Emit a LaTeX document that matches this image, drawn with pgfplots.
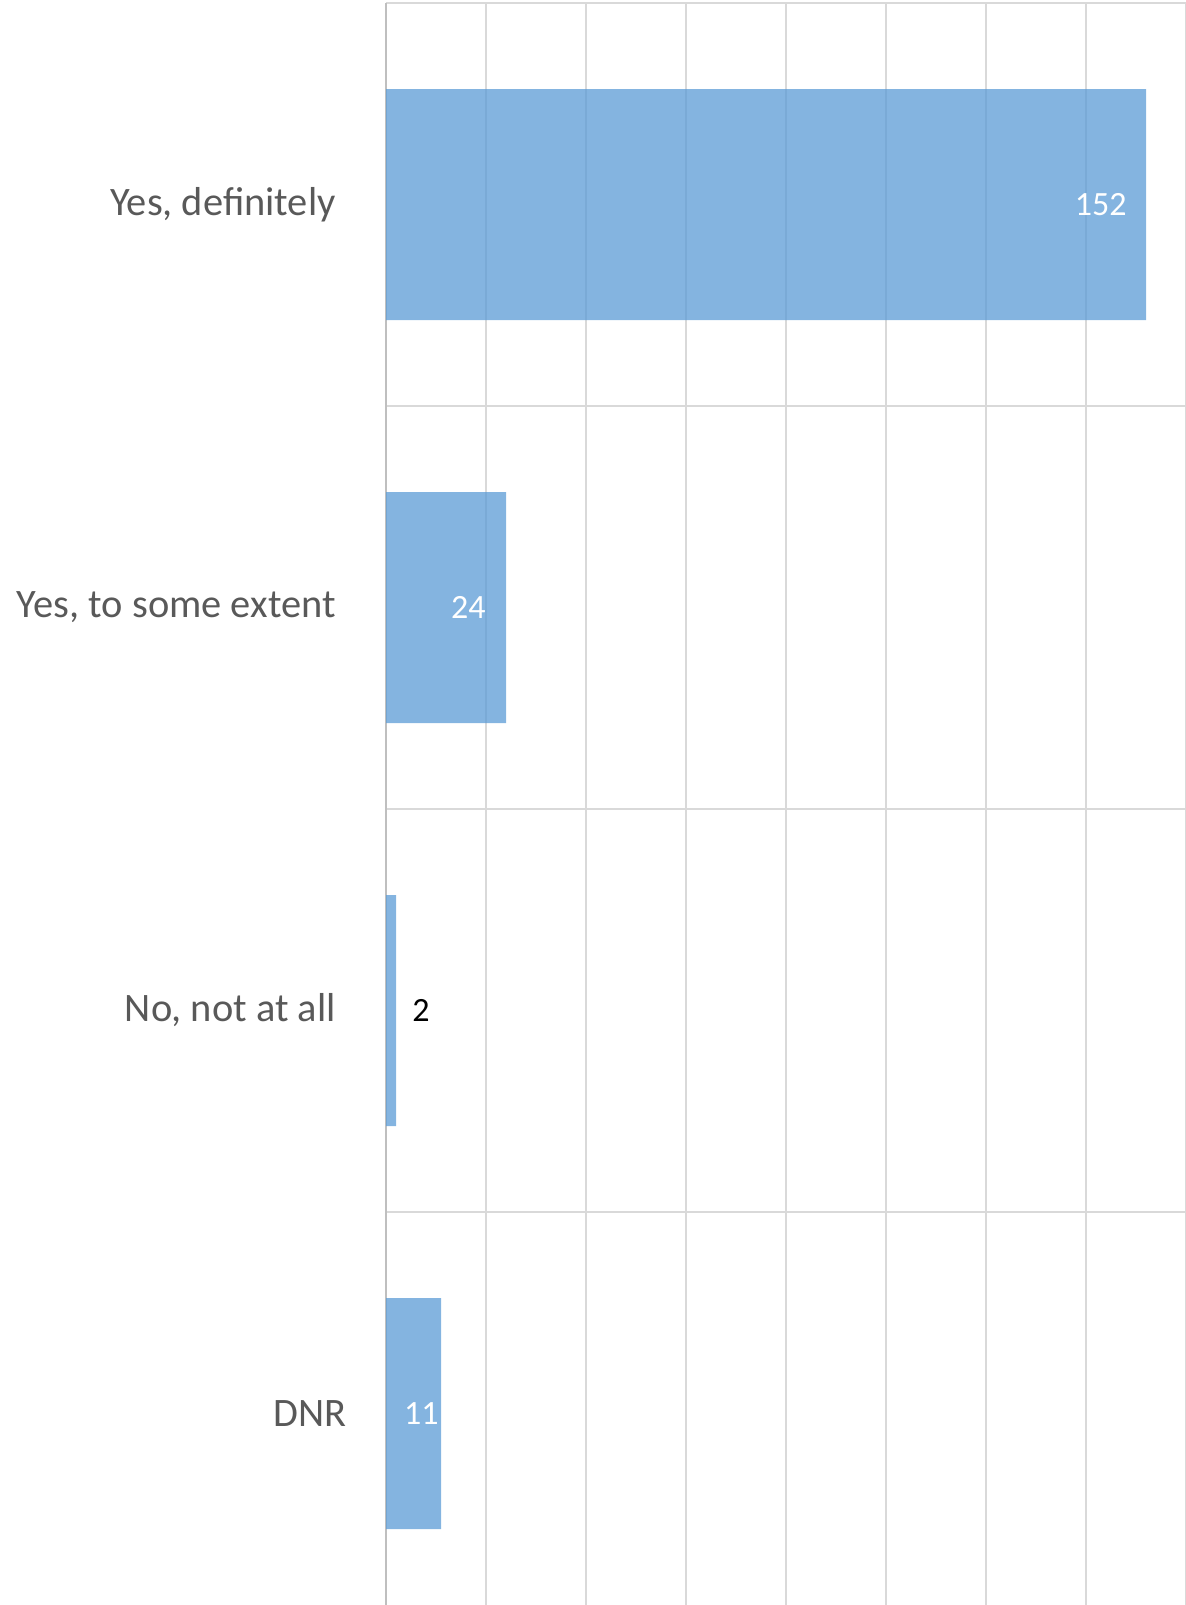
\documentclass[border=0pt]{standalone}
\usepackage{pgfplots}
\pgfplotsset{compat=1.18}
\usepackage{fontspec}
\setmainfont{Carlito}
\definecolor{barblue}{HTML}{5B9BD5}
\definecolor{gridgray}{HTML}{D9D9D9}
\definecolor{axisgray}{HTML}{BFBFBF}
\definecolor{labelgray}{HTML}{595959}
\begin{document}
\begin{tikzpicture}
  \begin{axis}[
      at={(193pt,-1.5pt)}, anchor=north west,
      scale only axis,
      width=400pt, height=806pt,
      xbar, bar width=115.5pt,
      xmin=0, xmax=160,
      ymin=-0.5, ymax=3.5, y dir=reverse,
      xtick={0,20,...,160}, xticklabels={},
      xmajorgrids,
      extra x ticks={0}, extra x tick labels={},
      extra x tick style={grid style={axisgray, line width=1.3pt}},
      ytick={0,1,2,3},
      yticklabels={{Yes, definitely},{Yes, to some extent},{No, not at all},{DNR\kern-5.6pt}},
      minor ytick={-0.5,0.5,1.5,2.5},
      yminorgrids,
      grid style={gridgray, line width=1pt},
      minor grid style={gridgray, line width=1pt},
      major tick length=0pt, minor tick length=0pt,
      axis line style={draw=none},
      yticklabel style={inner sep=0pt, xshift=-25pt, text=labelgray,
        font=\fontsize{20.2}{24}\selectfont},
    ]
    \addplot[fill=barblue, fill opacity=0.75, draw=none] coordinates {
      (152,0)
      (24,1)
      (2,2)
      (11,3)
    };
    \node[anchor=east, text=white, inner sep=0pt, font=\fontsize{17}{20}\selectfont]
      at (axis cs:152,0) [xshift=-9.5pt] {152};
    \node[anchor=east, text=white, inner sep=0pt, font=\fontsize{17}{20}\selectfont]
      at (axis cs:24,1) [xshift=-10pt] {24};
    \node[anchor=west, text=black, inner sep=0pt, font=\fontsize{17}{20}\selectfont]
      at (axis cs:2,2) [xshift=8pt] {2};
    \node[anchor=east, text=white, inner sep=0pt, font=\fontsize{17}{20}\selectfont]
      at (axis cs:11,3) [xshift=-1pt] {11};
  \end{axis}
  \pgfresetboundingbox
  \useasboundingbox (0,0) rectangle (593pt,-802.5pt);
\end{tikzpicture}
\end{document}
